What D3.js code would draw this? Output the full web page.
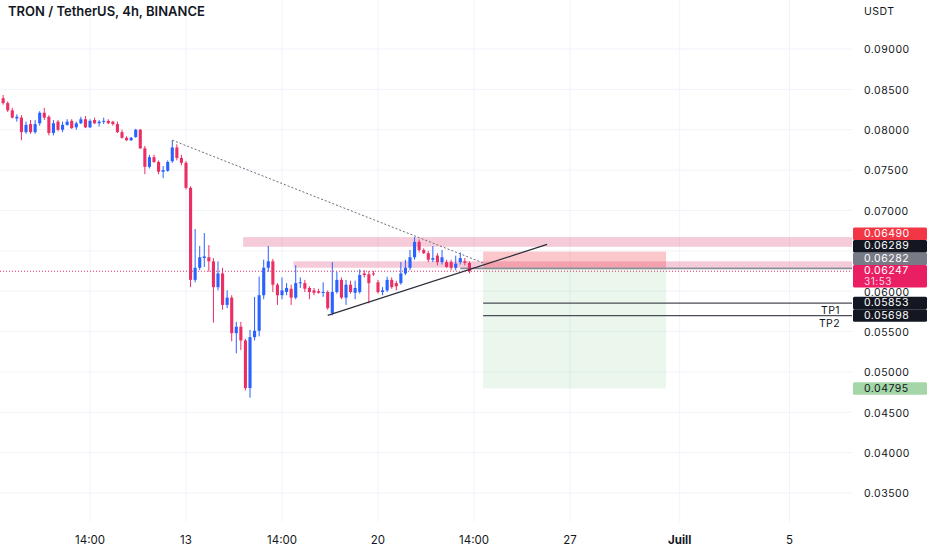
<!DOCTYPE html>
<html><head><meta charset="utf-8">
<script src="https://cdn.jsdelivr.net/npm/d3@7"></script>
<style>
body{margin:0;background:#fff}
svg{display:block}
text{font-family:Inter,"Noto Sans","Liberation Sans",sans-serif}
</style>
</head><body>
<svg id="chart" width="932" height="550"></svg>
<script>
// ---------------- DATA ----------------
const title = "TRON / TetherUS, 4h, BINANCE";
const currency = "USDT";
const firstCandleTime = Date.UTC(2022, 5, 6, 8);   // 4h candles
const candleHours = 4;
// [open, high, low, close]
const candles = [
 [0.0839,0.0843,0.0831,0.0833],[0.0833,0.0835,0.0822,0.0824],[0.0824,0.0827,0.0814,0.0815],[0.0814,0.0819,0.0810,0.0816],
 [0.0815,0.0818,0.0787,0.0797],[0.0797,0.0810,0.0795,0.0806],[0.0807,0.0812,0.0795,0.0797],[0.0797,0.0812,0.0795,0.0807],
 [0.0808,0.0823,0.0805,0.0821],[0.0821,0.0827,0.0812,0.0815],[0.0816,0.0818,0.0793,0.0796],[0.0796,0.0812,0.0793,0.0808],
 [0.0810,0.0812,0.0798,0.0800],[0.0800,0.0810,0.0797,0.0806],[0.0806,0.0813,0.0805,0.0810],[0.0811,0.0813,0.0801,0.0802],
 [0.0803,0.0810,0.0800,0.0808],[0.0808,0.0816,0.0807,0.0813],[0.0813,0.0817,0.0802,0.0803],[0.0803,0.0813,0.0802,0.0811],
 [0.0812,0.0815,0.0807,0.0808],[0.0808,0.0812,0.0804,0.0810],[0.0810,0.0815,0.0807,0.0811],[0.0811,0.0813,0.0807,0.0808],
 [0.0810,0.0811,0.0805,0.0807],[0.0807,0.0810,0.0796,0.0797],[0.0797,0.0800,0.0789,0.0790],[0.0790,0.0792,0.0786,0.0787],
 [0.0787,0.0791,0.0786,0.0790],[0.0791,0.0801,0.0790,0.0800],[0.0800,0.0801,0.0776,0.0777],[0.0777,0.0780,0.0745,0.0754],
 [0.0754,0.0769,0.0752,0.0766],[0.0766,0.0769,0.0759,0.0760],[0.0760,0.0762,0.0745,0.0748],[0.0748,0.0755,0.0740,0.0750],
 [0.0749,0.0762,0.0748,0.0760],[0.0761,0.0787,0.0759,0.0778],[0.0778,0.0782,0.0762,0.0765],[0.0765,0.0769,0.0756,0.0759],
 [0.0759,0.0761,0.0726,0.0728],[0.0728,0.0730,0.0605,0.0614],[0.0614,0.0677,0.0611,0.0629],[0.0629,0.0656,0.0626,0.0642],
 [0.0641,0.0672,0.0630,0.0643],[0.0642,0.0657,0.0624,0.0637],[0.0637,0.0641,0.0561,0.0605],[0.0605,0.0637,0.0601,0.0622],
 [0.0622,0.0629,0.0577,0.0583],[0.0583,0.0601,0.0579,0.0592],[0.0592,0.0595,0.0538,0.0548],[0.0548,0.0562,0.0523,0.0556],
 [0.0556,0.0562,0.0527,0.0539],[0.0539,0.0541,0.0477,0.0480],[0.0480,0.0552,0.0468,0.0543],[0.0543,0.0593,0.0539,0.0551],
 [0.0551,0.0618,0.0544,0.0595],[0.0595,0.0639,0.0590,0.0629],[0.0629,0.0656,0.0624,0.0637],[0.0637,0.0640,0.0599,0.0608],
 [0.0608,0.0610,0.0583,0.0595],[0.0595,0.0617,0.0590,0.0601],[0.0599,0.0610,0.0595,0.0604],[0.0603,0.0608,0.0583,0.0592],
 [0.0592,0.0632,0.0590,0.0610],[0.0610,0.0617,0.0604,0.0611],[0.0610,0.0614,0.0599,0.0603],[0.0604,0.0606,0.0590,0.0599],
 [0.0601,0.0604,0.0595,0.0598],[0.0600,0.0603,0.0597,0.0598],[0.0598,0.0611,0.0593,0.0599],[0.0599,0.0601,0.0577,0.0579],
 [0.0573,0.0636,0.0570,0.0599],[0.0599,0.0624,0.0597,0.0614],[0.0614,0.0617,0.0590,0.0592],[0.0592,0.0614,0.0583,0.0608],
 [0.0608,0.0613,0.0597,0.0599],[0.0598,0.0613,0.0590,0.0604],[0.0599,0.0627,0.0597,0.0620],[0.0622,0.0626,0.0617,0.0620],
 [0.0621,0.0625,0.0585,0.0610],[0.0622,0.0625,0.0619,0.0621],[0.0611,0.0614,0.0597,0.0599],[0.0599,0.0605,0.0595,0.0601],
 [0.0601,0.0618,0.0599,0.0614],[0.0614,0.0617,0.0603,0.0605],[0.0610,0.0613,0.0601,0.0606],[0.0610,0.0636,0.0608,0.0622],
 [0.0622,0.0639,0.0620,0.0629],[0.0629,0.0651,0.0626,0.0642],[0.0642,0.0667,0.0639,0.0661],[0.0661,0.0664,0.0648,0.0651],
 [0.0651,0.0653,0.0646,0.0647],[0.0647,0.0650,0.0636,0.0639],[0.0639,0.0656,0.0636,0.0641],[0.0644,0.0647,0.0632,0.0636],
 [0.0636,0.0651,0.0633,0.0642],[0.0636,0.0639,0.0629,0.0630],[0.0636,0.0639,0.0626,0.0629],[0.0629,0.0644,0.0626,0.0634],
 [0.0636,0.0648,0.0633,0.0641],[0.0637,0.0641,0.0632,0.0635],[0.0635,0.0637,0.0622,0.06247]
];
const timeTicks = [Date.UTC(2022,5,9,12),Date.UTC(2022,5,13),Date.UTC(2022,5,16,12),Date.UTC(2022,5,20),
                   Date.UTC(2022,5,23,12),Date.UTC(2022,5,27),Date.UTC(2022,6,1),Date.UTC(2022,6,5)];
const timeTickLabels = ["14:00","13","14:00","20","14:00","27","Juill","5"];
const priceTicks = [0.035,0.040,0.045,0.050,0.055,0.060,0.065,0.070,0.075,0.080,0.085,0.090];

// resistance zones
const zoneStart = [Date.UTC(2022,5,15,2), Date.UTC(2022,5,16,22)];
const zoneTop   = [0.0667, 0.0637];
const zoneBot   = [0.0655, 0.0629];

// trend lines [time, price]
const trendDotted = [[Date.UTC(2022,5,12,12),0.0787],[Date.UTC(2022,5,23,20),0.0635]];
const trendSolid  = [[Date.UTC(2022,5,18,4),0.0570],[Date.UTC(2022,5,26,4),0.0658]];

// short position
const posStart = Date.UTC(2022,5,23,20), posEnd = Date.UTC(2022,5,30,12);
const entryLineStart = Date.UTC(2022,5,23,0);
const entryPrice = 0.06282, stopPrice = 0.06490, targetPrice = 0.04795;
const tpNames = ["TP1","TP2"];
const tpPrices = [0.05853, 0.05698];
const lastPrice = 0.06247, countdown = "31:53";
const levelPrice = 0.06289;

// right-axis label boxes
const labelPrices = [stopPrice, levelPrice, entryPrice, lastPrice, tpPrices[0], tpPrices[1], targetPrice];
const labelKinds  = ["stop","level","entry","last","tp","tp","target"];

// ---------------- DRAW ----------------
const W = 932, H = 550, plotRight = 852;
const svg = d3.select("#chart");
const x = d3.scaleUtc().domain([Date.UTC(2022,5,13), Date.UTC(2022,5,20)]).range([186, 378]);
const y = d3.scaleLinear().domain([0.035, 0.090]).range([493, 49]);
const fmt = d3.format(".5f");
const RED = "#eb2f64", BLUE = "#2962ff";

// grid
svg.append("g").selectAll("line").data(priceTicks).join("line")
  .attr("x1",0).attr("x2",plotRight).attr("y1",d=>y(d)).attr("y2",d=>y(d))
  .attr("stroke","#f0f3fa").attr("stroke-width",1);
svg.append("g").selectAll("line").data(timeTicks).join("line")
  .attr("x1",d=>x(d)).attr("x2",d=>x(d)).attr("y1",0).attr("y2",522)
  .attr("stroke","#f0f3fa").attr("stroke-width",1);

// zones
svg.append("g").selectAll("rect").data(zoneStart).join("rect")
  .attr("x",d=>x(d)).attr("width",(d)=>plotRight-x(d))
  .attr("y",(d,i)=>y(zoneTop[i])).attr("height",(d,i)=>y(zoneBot[i])-y(zoneTop[i]))
  .attr("fill","rgba(222,70,120,0.28)");

// position boxes
svg.append("rect").attr("x",x(posStart)).attr("width",x(posEnd)-x(posStart))
  .attr("y",y(entryPrice)).attr("height",y(targetPrice)-y(entryPrice))
  .attr("fill","rgba(76,175,80,0.11)");
svg.append("rect").attr("x",x(posStart)).attr("width",x(posEnd)-x(posStart))
  .attr("y",y(stopPrice)).attr("height",y(entryPrice)-y(stopPrice))
  .attr("fill","rgba(242,54,69,0.28)");

// entry line
svg.append("line").attr("x1",x(entryLineStart)).attr("x2",plotRight)
  .attr("y1",y(entryPrice)).attr("y2",y(entryPrice))
  .attr("stroke","#8a8d96").attr("stroke-width",1.6);

// TP lines
tpPrices.forEach((p,i)=>{
  svg.append("line").attr("x1",x(posStart)).attr("x2",plotRight)
    .attr("y1",y(p)).attr("y2",y(p)).attr("stroke","#4a4d55").attr("stroke-width",1.2);
  svg.append("text").attr("x",840).attr("y",y(p)+8.5).attr("text-anchor","end")
    .attr("font-size",10.5).attr("fill","#131722").attr("dominant-baseline","middle")
    .attr("letter-spacing",0.4).text(tpNames[i]);
});

// current price line
svg.append("line").attr("x1",0).attr("x2",plotRight).attr("y1",y(lastPrice)).attr("y2",y(lastPrice))
  .attr("stroke",RED).attr("stroke-width",1).attr("stroke-dasharray","1,2");

// candles
const candleMs = candleHours*3600e3;
const cw = (x(firstCandleTime+candleMs)-x(firstCandleTime))*0.68;
const cg = svg.append("g").selectAll("g").data(candles).join("g")
  .attr("fill",d=>d[3]>=d[0]?BLUE:RED).attr("stroke",d=>d[3]>=d[0]?BLUE:RED);
cg.append("line")
  .attr("x1",(d,i)=>x(firstCandleTime+i*candleMs)).attr("x2",(d,i)=>x(firstCandleTime+i*candleMs))
  .attr("y1",d=>y(d[1])).attr("y2",d=>y(d[2])).attr("stroke-width",1);
cg.append("rect")
  .attr("x",(d,i)=>x(firstCandleTime+i*candleMs)-cw/2).attr("width",cw)
  .attr("y",d=>y(Math.max(d[0],d[3])))
  .attr("height",d=>Math.max(1,Math.abs(y(d[0])-y(d[3])))).attr("stroke","none");

// trend lines
const lineGen = d3.line().x(d=>x(d[0])).y(d=>y(d[1]));
svg.append("path").attr("d",lineGen(trendDotted)).attr("fill","none")
  .attr("stroke","#6a6d75").attr("stroke-width",1).attr("stroke-dasharray","2,2");
svg.append("path").attr("d",lineGen(trendSolid)).attr("fill","none")
  .attr("stroke","#2a2e39").attr("stroke-width",1.2);

// title
svg.append("text").attr("x",8).attr("y",15.5).attr("font-size",13).attr("font-weight",600)
  .attr("fill","#131722").text(title);

// right axis: label boxes layout
const styles = {
  stop:{bg:"#f23645",fg:"#ffffff"}, level:{bg:"#131722",fg:"#ffffff"},
  entry:{bg:"#787b86",fg:"#ffffff"}, last:{bg:"#e91e63",fg:"#ffffff"},
  tp:{bg:"#131722",fg:"#ffffff"}, target:{bg:"#a5d6a7",fg:"#131722"}
};
const bh = 12.5;
let boxes = labelPrices.map((p,i)=>{
  const k = labelKinds[i], c = y(p);
  const top = c - bh/2, h = k==="last" ? 22.5 : bh;
  return {p,k,top,h};
}).sort((a,b)=>b.top-a.top);
for (let i=1;i<boxes.length;i++){
  const prev = boxes[i-1];
  if (boxes[i].top + boxes[i].h > prev.top) boxes[i].top = prev.top - boxes[i].h;
}
// axis tick labels (hide where covered by a box)
const visibleTicks = priceTicks.filter(t=>!boxes.some(b=>y(t)>b.top-2 && y(t)<b.top+b.h+2));
svg.append("g").selectAll("text").data(visibleTicks).join("text")
  .attr("x",864).attr("y",d=>y(d)+1.5).attr("dominant-baseline","middle")
  .attr("font-size",10.5).attr("letter-spacing",0.5).attr("fill","#131722").text(d=>fmt(d));
svg.append("text").attr("x",864).attr("y",12).attr("dominant-baseline","middle")
  .attr("font-size",10.5).attr("letter-spacing",0.5).attr("fill","#131722").text(currency);

const bg = svg.append("g").selectAll("g").data(boxes).join("g");
bg.append("rect").attr("x",853).attr("y",d=>d.top).attr("width",74).attr("height",d=>d.h)
  .attr("rx",1.5).attr("fill",d=>styles[d.k].bg);
bg.append("text").attr("x",864).attr("y",d=>d.top+bh/2+0.3).attr("dominant-baseline","middle")
  .attr("font-size",10.5).attr("letter-spacing",0.5).attr("fill",d=>styles[d.k].fg).text(d=>fmt(d.p));
bg.filter(d=>d.k==="last").append("text").attr("x",864).attr("y",d=>d.top+16.8)
  .attr("dominant-baseline","middle").attr("font-size",10).attr("letter-spacing",0.5)
  .attr("fill","#ffd6e2").text(countdown);

// bottom axis labels
svg.append("g").selectAll("text").data(timeTicks).join("text")
  .attr("x",d=>x(d)).attr("y",541).attr("text-anchor","middle").attr("dominant-baseline","middle")
  .attr("font-size",11.5).attr("fill","#131722")
  .attr("font-weight",(d,i)=>timeTickLabels[i]==="Juill"?700:400)
  .text((d,i)=>timeTickLabels[i]);
</script>
</body></html>
